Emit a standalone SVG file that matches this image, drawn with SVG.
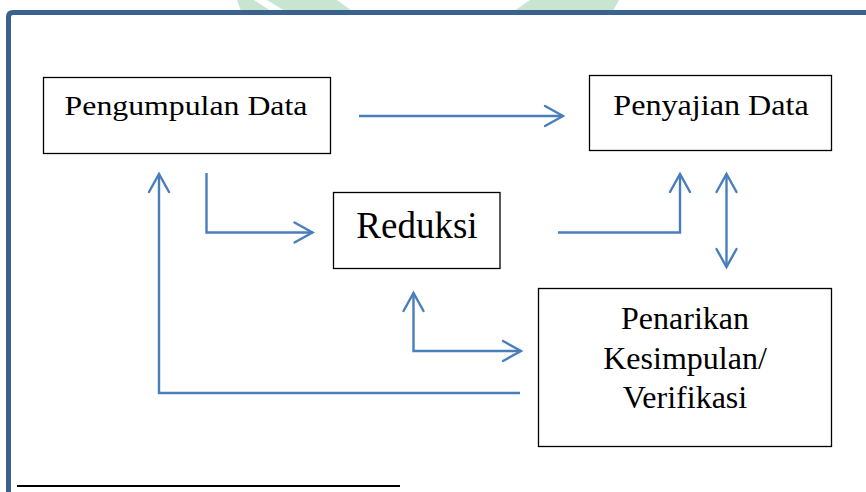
<svg xmlns="http://www.w3.org/2000/svg" width="866" height="492" viewBox="0 0 866 492">
<style>
.box{fill:#ffffff;stroke:#000000;stroke-width:1.3}
.con{fill:none;stroke:#4a7ebb;stroke-width:2.4;stroke-linejoin:miter}
.wm{fill:#c8e5d2}
.lbl{font-family:"Times New Roman",serif;fill:#000000;text-anchor:middle}
</style>
<defs>
<marker id="chev" markerUnits="userSpaceOnUse" viewBox="-22 -13 26 26" refX="0" refY="0" markerWidth="26" markerHeight="26" orient="auto-start-reverse">
<path d="M-18,-10 L0,0 L-18,10" fill="none" stroke="#4a7ebb" stroke-width="2.4" stroke-linecap="round" stroke-linejoin="miter"/>
</marker>
</defs>
<rect width="866" height="492" fill="#ffffff"/>
<g id="watermark">
<polygon class="wm" points="237,0 254,0 271,11 241,11"/>
<polygon class="wm" points="267,0 337,0 352,11 285,11"/>
<polygon class="wm" points="530,0 619,0 613,11 514,11"/>
</g>
<g id="frame">
<path d="M8.5,492 L8.5,17 Q8.5,12.5 13,12.5 L866,12.5" fill="none" stroke="#3b6191" stroke-width="5"/>
</g>
<g id="connectors">
<path class="con" d="M359,116 L563,116" marker-end="url(#chev)"/>
<path class="con" d="M206.5,173 L206.5,232.5 L312.5,232.5" marker-end="url(#chev)"/>
<path class="con" d="M520,393 L159,393 L159,174" marker-end="url(#chev)"/>
<path class="con" d="M413.5,293 L413.5,351 L521,351" marker-start="url(#chev)" marker-end="url(#chev)"/>
<path class="con" d="M558,232.5 L680,232.5 L680,174" marker-end="url(#chev)"/>
<path class="con" d="M726.5,174 L726.5,267" marker-start="url(#chev)" marker-end="url(#chev)"/>
</g>
<g id="pengumpulan">
<rect class="box" x="43.5" y="77.5" width="287" height="76"/>
<text class="lbl" font-size="28" transform="translate(186,115) scale(1.136,1)">Pengumpulan Data</text>
</g>
<g id="penyajian">
<rect class="box" x="589.5" y="75.5" width="242" height="75"/>
<text class="lbl" font-size="30" transform="translate(711,115) scale(1.072,1)">Penyajian Data</text>
</g>
<g id="reduksi">
<rect class="box" x="333.5" y="192.5" width="166.5" height="76"/>
<text class="lbl" x="417" y="238" font-size="37">Reduksi</text>
</g>
<g id="penarikan">
<rect class="box" x="538.5" y="288.5" width="293" height="158"/>
<text class="lbl" x="685" y="329" font-size="32">Penarikan</text>
<text class="lbl" x="685" y="369" font-size="32">Kesimpulan/</text>
<text class="lbl" x="685" y="408" font-size="32">Verifikasi</text>
</g>
<g id="footnote-rule">
<line x1="17" y1="486" x2="400" y2="486" stroke="#000000" stroke-width="2"/>
</g>
</svg>
